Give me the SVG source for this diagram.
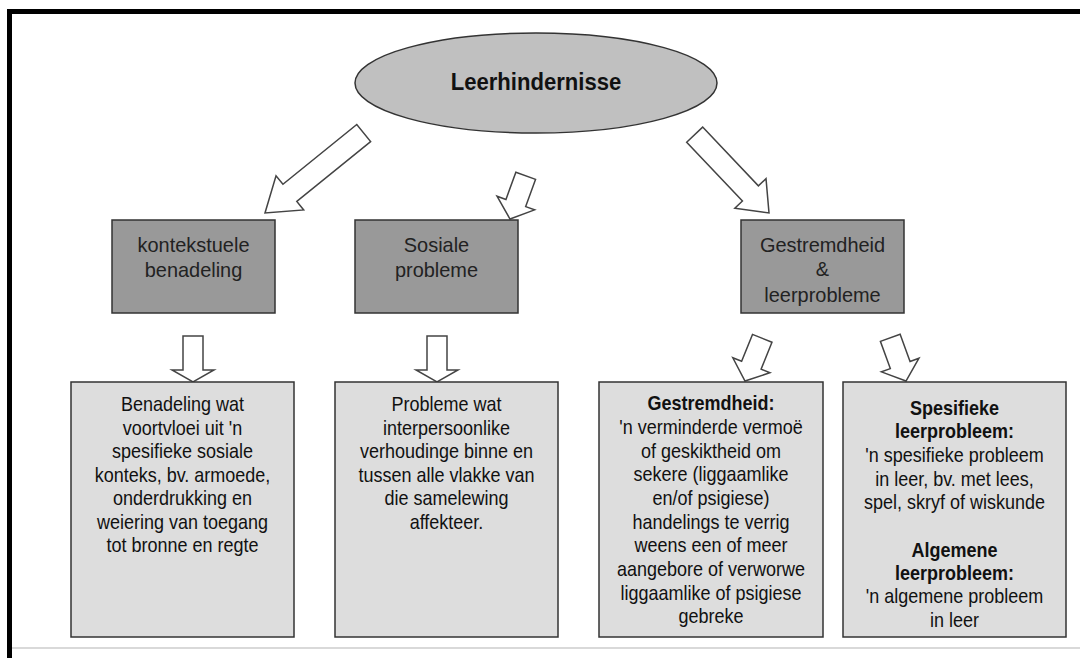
<svg xmlns="http://www.w3.org/2000/svg" width="1080" height="658" viewBox="0 0 1080 658">
<style>
.frame{fill:none;stroke:#000;stroke-width:5}
.ell{fill:#c0c0c0;stroke:#333;stroke-width:1.5}
.b1{fill:#999;stroke:#333;stroke-width:1.5}
.b2{fill:#ddd;stroke:#333;stroke-width:1.5}
.arr{fill:#fff;stroke:#444;stroke-width:1.5;stroke-linejoin:miter}
text{font-family:"Liberation Sans",Arial,sans-serif;fill:#111;text-anchor:middle}
.t0{font-size:23px;font-weight:bold}
.t1{font-size:21px;fill:#222}
.t2{font-size:20px}
.bd{font-weight:bold}
</style>
<rect x="0" y="0" width="1080" height="658" fill="#fff"/>
<path class="frame" d="M9.5,658 V11.5 H1080"/>
<line x1="12" y1="648" x2="1080" y2="648" stroke="#ccc" stroke-width="1.5"/>

<g id="connectors">
<path class="arr" transform="translate(265,213) rotate(141)" d="M-127,-11 H-32 V-22 L0,0 L-32,22 V11 H-127 Z"/>
<path class="arr" transform="translate(510,219) rotate(110)" d="M-46,-10.5 H-17 V-20 L0,0 L-17,20 V10.5 H-46 Z"/>
<path class="arr" transform="translate(769,213) rotate(46.5)" d="M-108,-11 H-27 V-21.5 L0,0 L-27,21.5 V11 H-108 Z"/>
<path class="arr" transform="translate(193,382) rotate(90)" d="M-46,-10 H-12 V-21 L0,0 L-12,21 V10 H-46 Z"/>
<path class="arr" transform="translate(437,382) rotate(90)" d="M-46,-10 H-12 V-21 L0,0 L-12,21 V10 H-46 Z"/>
<path class="arr" transform="translate(745,381) rotate(112)" d="M-46,-10.5 H-17 V-20 L0,0 L-17,20 V10.5 H-46 Z"/>
<path class="arr" transform="translate(906,381) rotate(70)" d="M-46,-10.5 H-17 V-20 L0,0 L-17,20 V10.5 H-46 Z"/>
</g>

<g id="root">
<ellipse class="ell" cx="536" cy="83" rx="181" ry="50"/>
<g transform="translate(536,0) scale(0.96,1)"><text class="t0" x="0" y="90">Leerhindernisse</text></g>
</g>

<g id="kontekstuele">
<rect class="b1" x="112" y="220" width="163" height="93"/>
<g transform="translate(193.5,0) scale(0.95,1)"><text class="t1" x="0" y="252">kontekstuele</text><text class="t1" x="0" y="277">benadeling</text></g>
</g>
<g id="sosiale">
<rect class="b1" x="355" y="220" width="163" height="93"/>
<g transform="translate(436.5,0) scale(0.95,1)"><text class="t1" x="0" y="252">Sosiale</text><text class="t1" x="0" y="277">probleme</text></g>
</g>
<g id="gestremdheid">
<rect class="b1" x="741" y="220" width="163" height="93"/>
<g transform="translate(822.5,0) scale(0.95,1)"><text class="t1" x="0" y="252">Gestremdheid</text><text class="t1" x="0" y="276">&amp;</text><text class="t1" x="0" y="302">leerprobleme</text></g>
</g>

<g id="benadeling">
<rect class="b2" x="71" y="382" width="223" height="255"/>
<g transform="translate(182.5,0) scale(0.9,1)">
<text class="t2" x="0" y="411">Benadeling wat</text>
<text class="t2" x="0" y="435">voortvloei uit 'n</text>
<text class="t2" x="0" y="458">spesifieke sosiale</text>
<text class="t2" x="0" y="482">konteks, bv. armoede,</text>
<text class="t2" x="0" y="505">onderdrukking en</text>
<text class="t2" x="0" y="529">weiering van toegang</text>
<text class="t2" x="0" y="552">tot bronne en regte</text>
</g>
</g>

<g id="probleme">
<rect class="b2" x="335" y="382" width="223" height="255"/>
<g transform="translate(446.5,0) scale(0.9,1)">
<text class="t2" x="0" y="411">Probleme wat</text>
<text class="t2" x="0" y="435">interpersoonlike</text>
<text class="t2" x="0" y="458">verhoudinge binne en</text>
<text class="t2" x="0" y="482">tussen alle vlakke van</text>
<text class="t2" x="0" y="505">die samelewing</text>
<text class="t2" x="0" y="529">affekteer.</text>
</g>
</g>

<g id="gestremdheid-def">
<rect class="b2" x="599" y="382" width="224" height="255"/>
<g transform="translate(711,0) scale(0.9,1)">
<text class="t2 bd" x="0" y="410">Gestremdheid:</text>
<text class="t2" x="0" y="434">'n verminderde vermoë</text>
<text class="t2" x="0" y="458">of geskiktheid om</text>
<text class="t2" x="0" y="481">sekere (liggaamlike</text>
<text class="t2" x="0" y="505">en/of psigiese)</text>
<text class="t2" x="0" y="529">handelings te verrig</text>
<text class="t2" x="0" y="552">weens een of meer</text>
<text class="t2" x="0" y="576">aangebore of verworwe</text>
<text class="t2" x="0" y="600">liggaamlike of psigiese</text>
<text class="t2" x="0" y="623">gebreke</text>
</g>
</g>

<g id="leerprobleem-def">
<rect class="b2" x="843" y="382" width="223" height="255"/>
<g transform="translate(954.5,0) scale(0.9,1)">
<text class="t2 bd" x="0" y="415">Spesifieke</text>
<text class="t2 bd" x="0" y="438">leerprobleem:</text>
<text class="t2" x="0" y="462">'n spesifieke probleem</text>
<text class="t2" x="0" y="486">in leer, bv. met lees,</text>
<text class="t2" x="0" y="509">spel, skryf of wiskunde</text>
<text class="t2 bd" x="0" y="557">Algemene</text>
<text class="t2 bd" x="0" y="580">leerprobleem:</text>
<text class="t2" x="0" y="603">'n algemene probleem</text>
<text class="t2" x="0" y="627">in leer</text>
</g>
</g>
</svg>
